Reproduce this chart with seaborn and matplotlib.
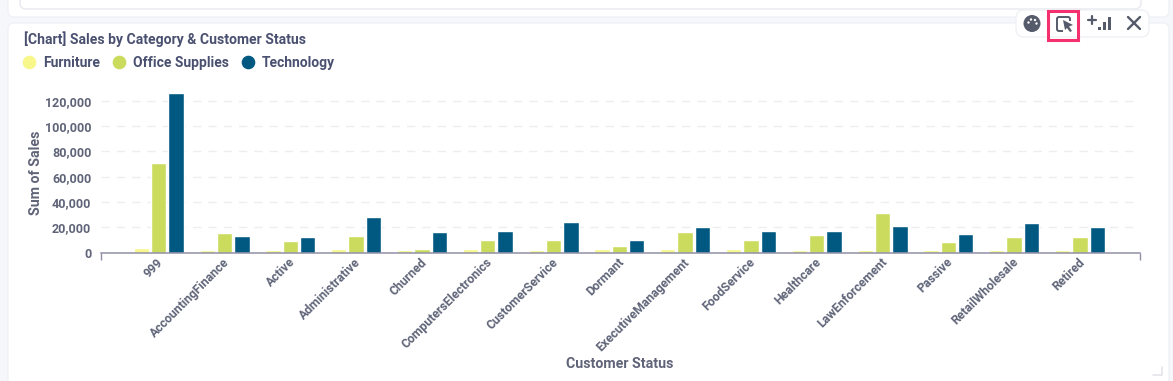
import matplotlib
matplotlib.use("Agg")
import matplotlib.pyplot as plt
from matplotlib.lines import Line2D
from matplotlib.patches import FancyBboxPatch, Rectangle, Circle, Polygon
from matplotlib.transforms import ScaledTranslation
import pandas as pd
import seaborn as sns

statuses = ["999", "AccountingFinance", "Active", "Administrative", "Churned",
            "ComputersElectronics", "CustomerService", "Dormant", "ExecutiveManagement",
            "FoodService", "Healthcare", "LawEnforcement", "Passive", "RetailWholesale", "Retired"]
furniture = [3800, 1800, 1800, 2500, 1800, 2500, 1800, 2500, 2500, 2500, 1800, 1800, 1800, 1800, 1800]
office_supplies = [70500, 15400, 9000, 13000, 2500, 9800, 9800, 5000, 16200, 9800, 13800, 31300, 8200, 12200, 12200]
technology = [126000, 13000, 12200, 28100, 16200, 17000, 24200, 9800, 20200, 17000, 17000, 21000, 14600, 23400, 20200]
categories = ["Furniture", "Office Supplies", "Technology"]
palette = ["#F7F78B", "#CBDB5E", "#015982"]
y_ticks = [0, 20000, 40000, 60000, 80000, 100000, 120000]

df = pd.DataFrame({"Customer Status": statuses * 3,
                   "Category": [c for c in categories for _ in statuses],
                   "Sum of Sales": furniture + office_supplies + technology})

sns.set_theme(style="white")
plt.rcParams["font.family"] = ["Roboto", "DejaVu Sans"]
W, H = 1173, 381
TXT, TICK = "#4A5070", "#5F6478"
fig = plt.figure(figsize=(W / 100, H / 100), dpi=100, facecolor="#F5F7FB")

# page chrome, in pixel coordinates
bg = fig.add_axes([0, 0, 1, 1], zorder=0)
bg.set_xlim(0, W); bg.set_ylim(H, 0); bg.axis("off")
bg.add_patch(FancyBboxPatch((8, -20), 1161, 37, boxstyle="round,pad=0,rounding_size=6", fc="white", ec="#EEF1F7", lw=1))
bg.add_patch(FancyBboxPatch((20, -20), 1121, 29, boxstyle="round,pad=0,rounding_size=6", fc="white", ec="#E6E9EF", lw=1))
bg.add_patch(FancyBboxPatch((8, 23), 1161, 380, boxstyle="round,pad=0,rounding_size=6", fc="white", ec="#EEF1F7", lw=1))

# chart
left, right, zero_y, top_y = 101, 1139.5, 252.6, 88.1
ax = fig.add_axes([left / W, 1 - zero_y / H, (right - left) / W, (zero_y - top_y) / H], zorder=1)
ax.patch.set_alpha(0)
sns.barplot(data=df, x="Customer Status", y="Sum of Sales", hue="Category",
            order=statuses, hue_order=categories, palette=palette, saturation=1,
            width=0.79, gap=0.115, legend=False, ax=ax, zorder=3)
xmin, xmax = -0.877, 14.905
ax.set_xlim(xmin, xmax)
ax.set_ylim(0, 130000)
ax.set_yticks(y_ticks)
ax.set_yticklabels([f"{v:,}" for v in y_ticks], fontsize=9, fontweight="bold", color=TICK)
ax.grid(axis="y", color="#EDEEF1", lw=1, linestyle=(0, (6, 5)), zorder=0)
ax.set_axisbelow(True)
for s in ["top", "left", "right"]:
    ax.spines[s].set_visible(False)
ax.spines["bottom"].set_color("#8F90A6")
ax.spines["bottom"].set_linewidth(1.1)
ax.spines["bottom"].set_zorder(5)
ax.set_xticks(range(len(statuses)))
ax.set_xticklabels(statuses, rotation=45, ha="right", rotation_mode="anchor",
                   fontsize=8.8, fontweight="bold", color=TICK)
ax.set_xticks([xmin, xmax], minor=True)
ax.tick_params(axis="x", which="major", length=0, pad=2.2)
ax.tick_params(axis="x", which="minor", length=5, width=1, color="#8F90A6", bottom=True)
ax.tick_params(axis="y", length=0, pad=7)
shift = ScaledTranslation(-2 / 100, 0, fig.dpi_scale_trans)
for lab in ax.get_xticklabels():
    lab.set_transform(lab.get_transform() + shift)
ax.set_xlabel("Customer Status", fontsize=10.2, fontweight="bold", color=TICK)
ax.xaxis.set_label_coords((620 - left) / (right - left), 1 - (364 - top_y) / (zero_y - top_y), transform=ax.transAxes)
ax.xaxis.label.set_va("center")
ax.set_ylabel("Sum of Sales", fontsize=10.2, fontweight="bold", color=TICK)
ax.yaxis.set_label_coords((36 - left) / (right - left), 1 - (173 - top_y) / (zero_y - top_y), transform=ax.transAxes)
ax.yaxis.label.set_va("center")
ax.set_title("[Chart] Sales by Category & Customer Status", x=(24 - left) / (right - left),
             y=1 - (39 - top_y) / (zero_y - top_y), ha="left", va="center", pad=0,
             fontsize=10.1, fontweight="bold", color=TXT)

handles = [Line2D([], [], marker="o", ls="", ms=8.8, mfc=c, mec=c, label=n)
           for c, n in zip(palette, categories)]
leg = fig.legend(handles=handles, ncol=3, frameon=False, loc="center left",
                 bbox_to_anchor=(7.5 / W, 1 - 63 / H), handletextpad=0.35,
                 columnspacing=0.72, handlelength=1.3,
                 prop={"size": 10, "weight": "bold"})
for t in leg.get_texts():
    t.set_color(TXT)

# toolbar on top
fg = fig.add_axes([0, 0, 1, 1], zorder=5)
fg.set_xlim(0, W); fg.set_ylim(H, 0); fg.axis("off"); fg.patch.set_alpha(0)
fg.add_patch(FancyBboxPatch((1016, 10), 133, 27, boxstyle="round,pad=0,rounding_size=8", fc="white", ec="#F0F1F5", lw=1))
fg.add_patch(Rectangle((1048, 11), 30, 28.5, fc="none", ec="#F5306F", lw=2.2))
ic = "#565B6B"
fg.add_patch(Circle((1032, 23.5), 8.5, fc=ic, ec="none"))
for dx, dy in [(-3.5, -1), (-1, -4), (3, -3.5), (4.5, 0)]:
    fg.add_patch(Circle((1032 + dx, 23.5 + dy), 1.2, fc="white", ec="none"))
fg.add_patch(FancyBboxPatch((1057, 17), 13, 14, boxstyle="round,pad=0,rounding_size=2", fc="none", ec=ic, lw=1.4))
fg.add_patch(Rectangle((1063, 21), 9, 12, fc="white", ec="none"))
fg.add_patch(Polygon([(1063, 20), (1073, 25), (1069, 26.5), (1072, 31), (1070, 32), (1067, 28), (1065, 30)], fc=ic, ec="none"))
fg.plot([1088, 1096], [20, 20], color=ic, lw=1.6); fg.plot([1092, 1092], [16, 24], color=ic, lw=1.6)
for x, h in [(1098, 3), (1103, 8), (1108, 13)]:
    fg.add_patch(Rectangle((x, 30 - h), 2.6, h, fc=ic, ec="none"))
fg.plot([1128, 1140], [17, 29], color=ic, lw=1.7); fg.plot([1128, 1140], [29, 17], color=ic, lw=1.7)
fg.plot([1153, 1162, 1162], [375, 375, 367], color="#E3E5EA", lw=1.2)

fig.savefig("out.png", dpi=100, facecolor=fig.get_facecolor())
